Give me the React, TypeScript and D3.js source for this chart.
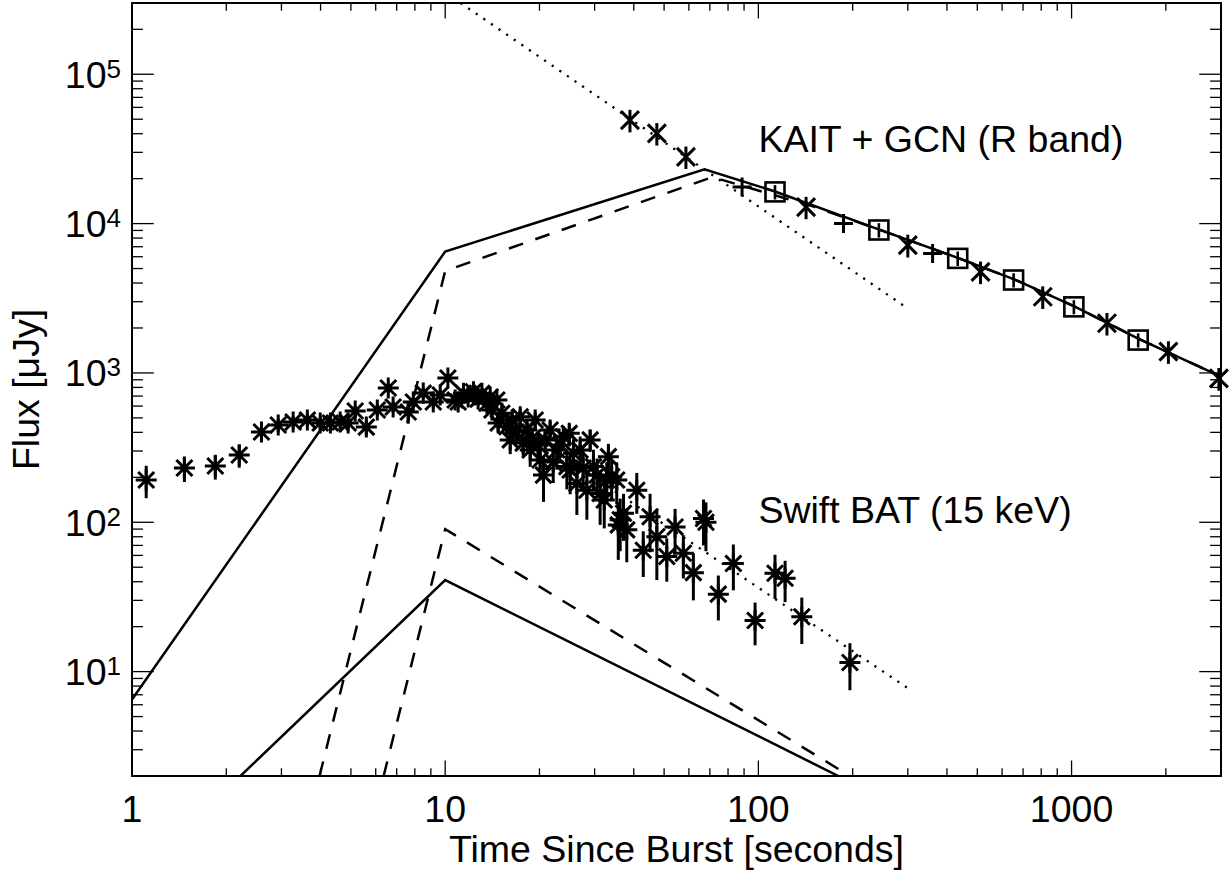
import { useEffect, useRef } from 'react'
import * as d3 from 'd3'

type Pt = [number, number]          // [time s, flux uJy]
type ErrPt = [number, number, number] // [time s, flux uJy, error]

const X_DOMAIN: Pt = [1, 3000]
const Y_DOMAIN: Pt = [2, 3e5]
const X_LABELS = [1, 10, 100, 1000]
const Y_EXPONENTS = [1, 2, 3, 4, 5]

// model curves, R band
const rSolid: Pt[] = [
  [1, 6.5], [10, 6500], [67.3, 23100], [113, 16400], [242, 9150],
  [433, 5900], [653, 4250], [1017, 2800], [1632, 1700], [3000, 944],
]
const rDashed: Pt[] = [
  [3.97, 2], [10, 4820], [71.3, 20500], [150, 13000], [242, 9150],
  [433, 5900], [653, 4250], [1017, 2800], [1632, 1700], [3000, 944],
]
const rDotted: Pt[] = [[11.2, 3.0e5], [300, 2700]]

// model curves, BAT 15 keV
const batSolid: Pt[] = [[2.22, 2], [10, 41], [180, 2]]
const batDashed: Pt[] = [[6.36, 2], [10, 90], [196, 2]]
const batDotted: Pt[] = [[15, 529], [300, 7.75]]

// Swift BAT light curve
const batPoints: ErrPt[] = [
  [1.11, 192, 47], [1.47, 231, 45], [1.845, 238, 45], [2.2, 282, 50], [2.59, 402, 45],
  [2.93, 448, 45], [3.27, 469, 45], [3.63, 484, 45], [3.99, 462, 45], [4.3, 462, 45],
  [4.62, 469, 45], [4.9, 462, 45], [5.16, 556, 50], [5.6, 434, 50], [6.07, 565, 50],
  [6.58, 792, 60], [6.82, 591, 50], [7.62, 547, 90], [7.91, 639, 50], [8.51, 733, 60],
  [9.16, 639, 60], [9.64, 711, 60], [10.2, 925, 60], [10.76, 659, 60], [11.0, 639, 60],
  [11.44, 730, 60], [11.84, 690, 60], [12.31, 748, 60], [12.74, 668, 60], [13.1, 730, 60],
  [13.59, 626, 60], [13.92, 690, 60], [14.1, 565, 60], [14.62, 659, 60], [14.76, 462, 60],
  [15.17, 537, 60], [15.74, 436, 60], [16.13, 356, 70], [16.36, 484, 60], [16.85, 402, 60],
  [17.36, 509, 60], [17.74, 339, 60], [18.23, 415, 60], [18.68, 305, 70], [18.96, 367, 60],
  [19.38, 484, 60], [19.8, 329, 60], [20.1, 261, 70], [20.6, 207, 70], [20.85, 356, 60],
  [21.63, 415, 60], [22.13, 253, 70], [22.73, 305, 80], [23.3, 329, 60], [23.85, 374, 60],
  [24.46, 236, 70], [24.9, 394, 60], [25.06, 224, 70], [25.68, 290, 70], [26.33, 182, 70],
  [26.97, 305, 70], [27.57, 231, 70], [28.34, 164, 60], [29.03, 356, 60], [29.74, 236, 70],
  [30.55, 207, 60], [31.24, 156, 60], [32.2, 141, 50], [32.8, 192, 60], [33.2, 275, 60],
  [34.0, 202, 60], [35.3, 192, 60], [35.7, 96, 40], [36.2, 104, 40], [37.1, 115, 40],
  [38.0, 89, 35], [40.9, 164, 50], [42.9, 65, 22], [45.1, 109, 46], [47.4, 80, 39],
  [51.0, 59, 19], [54.2, 93, 30], [57.6, 62, 20], [62.0, 46, 16], [66.8, 106, 36],
  [68.0, 100, 36], [74.5, 33, 11], [83.2, 53, 18], [97.6, 22, 7], [113, 45.6, 15],
  [121.7, 42.2, 13], [137.6, 23.3, 8], [196, 11.5, 4],
]

// KAIT + GCN optical points
const rCross: ErrPt[] = [
  [38.9, 49300, 8500], [47.4, 40200, 6900], [58.7, 28000, 4800], [142, 12900, 2200],
  [300, 7180, 1250], [512, 4750, 820], [809, 3240, 560], [1297, 2150, 370],
  [2038, 1390, 240], [2954, 920, 160],
]
const rPlus: Pt[] = [[88.7, 17600], [187, 10000], [360, 6310]]
const rSquare: ErrPt[] = [
  [113, 16300, 1800], [242.5, 9060, 1000], [433, 5850, 650],
  [653, 4190, 460], [1017, 2770, 300], [1632, 1660, 180],
]

const labels = [
  { t: 100, f: 3.0e4, text: 'KAIT + GCN (R band)' },
  { t: 100, f: 99, text: 'Swift BAT (15 keV)' },
]

const FONT = '"Liberation Sans", Arial, Helvetica, sans-serif'
const FS = 37.5

export default function App() {
  const svgRef = useRef<SVGSVGElement>(null)

  useEffect(() => {
    if (!svgRef.current) return
    const svg = d3.select(svgRef.current)
    svg.selectAll('*').remove()

    const W = 1230
    const H = 874
    const margin = { top: 3, right: 9, bottom: 98, left: 132 }
    const iW = W - margin.left - margin.right
    const iH = H - margin.top - margin.bottom

    svg.attr('width', W).attr('height', H)

    const x = d3.scaleLog().domain(X_DOMAIN).range([0, iW])
    const y = d3.scaleLog().domain(Y_DOMAIN).range([iH, 0])

    svg.append('defs').append('clipPath').attr('id', 'plotclip')
      .append('rect').attr('width', iW).attr('height', iH)

    const g = svg.append('g').attr('transform', `translate(${margin.left},${margin.top})`)

    const isMajor = (v: number) => Math.abs(Math.log10(v) - Math.round(Math.log10(v))) < 1e-9

    // ticks, all four sides
    const xMaj = iH * 0.02, xMin = xMaj / 2
    const yMaj = iW * 0.02, yMin = yMaj / 2
    const tk = g.append('g').attr('stroke', '#000').attr('stroke-width', 1.3)
    x.ticks().forEach(v => {
      const len = isMajor(v) ? xMaj : xMin
      tk.append('line').attr('x1', x(v)).attr('x2', x(v)).attr('y1', iH).attr('y2', iH - len)
      tk.append('line').attr('x1', x(v)).attr('x2', x(v)).attr('y1', 0).attr('y2', len)
    })
    y.ticks().forEach(v => {
      const len = isMajor(v) ? yMaj : yMin
      tk.append('line').attr('y1', y(v)).attr('y2', y(v)).attr('x1', 0).attr('x2', len)
      tk.append('line').attr('y1', y(v)).attr('y2', y(v)).attr('x1', iW).attr('x2', iW - len)
    })

    // frame
    g.append('rect').attr('width', iW).attr('height', iH)
      .attr('fill', 'none').attr('stroke', '#000').attr('stroke-width', 2)

    // tick labels
    X_LABELS.forEach(v => {
      g.append('text').attr('x', x(v)).attr('y', iH + 45.5)
        .attr('text-anchor', 'middle').attr('font-family', FONT).attr('font-size', FS)
        .text(String(v))
    })
    Y_EXPONENTS.forEach(e => {
      const t = g.append('text').attr('x', -11).attr('y', y(Math.pow(10, e)) + 13.5)
        .attr('text-anchor', 'end').attr('font-family', FONT).attr('font-size', FS)
      t.append('tspan').text('10')
      t.append('tspan').attr('font-size', 26).attr('dy', -10).text(String(e))
    })

    // axis titles
    g.append('text').attr('x', iW / 2).attr('y', iH + 86)
      .attr('text-anchor', 'middle').attr('font-family', FONT).attr('font-size', FS)
      .text('Time Since Burst [seconds]')
    g.append('text').attr('transform', `translate(${39 - margin.left},${iH / 2}) rotate(-90)`)
      .attr('text-anchor', 'middle').attr('font-family', FONT).attr('font-size', FS)
      .text('Flux [μJy]')

    // model lines
    const line = d3.line<Pt>().x(d => x(d[0])).y(d => y(d[1]))
    const lines = g.append('g').attr('clip-path', 'url(#plotclip)')
      .attr('fill', 'none').attr('stroke', '#000').attr('stroke-width', 2.5)
    const styles: [Pt[], string | null][] = [
      [rSolid, null], [rDashed, '15,13'], [rDotted, '2.2,7'],
      [batSolid, null], [batDashed, '15,13'], [batDotted, '2.2,7'],
    ]
    styles.forEach(([data, dash]) => {
      const p = lines.append('path').attr('d', line(data))
      if (dash) p.attr('stroke-dasharray', dash)
      if (dash === '2.2,7') p.attr('stroke-width', 2.3)
    })

    const sym = g.append('g').attr('fill', 'none').attr('stroke', '#000').attr('stroke-width', 3)

    // BAT asterisks with error bars
    batPoints.forEach(([t, f, e]) => {
      const cx = x(t), cy = y(f)
      const lo = Math.max(f - e, Y_DOMAIN[0])
      sym.append('line').attr('x1', cx).attr('x2', cx).attr('y1', y(lo)).attr('y2', y(f + e))
      const r = 10.5, d = 8
      sym.append('path').attr('d',
        `M${cx - r},${cy}H${cx + r}M${cx},${cy - r}V${cy + r}` +
        `M${cx - d},${cy - d}L${cx + d},${cy + d}M${cx - d},${cy + d}L${cx + d},${cy - d}`)
    })

    // R band crosses
    rCross.forEach(([t, f, e]) => {
      const cx = x(t), cy = y(f)
      const d = 9
      sym.append('line').attr('x1', cx).attr('x2', cx).attr('y1', y(f - e)).attr('y2', y(f + e))
      sym.append('path').attr('d',
        `M${cx - d},${cy - d}L${cx + d},${cy + d}M${cx - d},${cy + d}L${cx + d},${cy - d}`)
    })

    // R band pluses
    rPlus.forEach(([t, f]) => {
      const cx = x(t), cy = y(f)
      const r = 9.5
      sym.append('path').attr('d', `M${cx - r},${cy}H${cx + r}M${cx},${cy - r}V${cy + r}`)
    })

    // R band squares
    rSquare.forEach(([t, f, e]) => {
      const cx = x(t), cy = y(f)
      const s = 9.5
      sym.append('rect').attr('x', cx - s).attr('y', cy - s).attr('width', 2 * s).attr('height', 2 * s)
        .attr('stroke-width', 2.6)
      sym.append('line').attr('x1', cx).attr('x2', cx).attr('y1', y(f - e)).attr('y2', y(f + e))
        .attr('stroke-width', 2.6)
    })

    // annotations
    labels.forEach(l => {
      g.append('text').attr('x', x(l.t)).attr('y', y(l.f))
        .attr('font-family', FONT).attr('font-size', FS).text(l.text)
    })
  }, [])

  return (
    <div style={{ position: 'absolute', left: 0, top: 0, background: '#fff' }}>
      <svg ref={svgRef} style={{ display: 'block' }} />
    </div>
  )
}
